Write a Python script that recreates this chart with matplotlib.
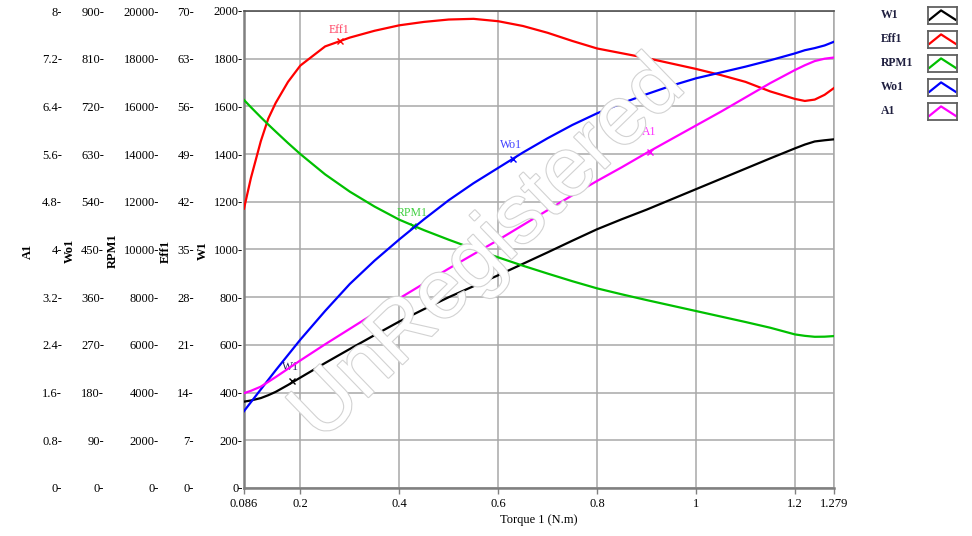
import numpy as np
import matplotlib
matplotlib.use("Agg")
import matplotlib.pyplot as plt
import matplotlib.patheffects as pe

plt.rcParams['font.family'] = ['Liberation Serif', 'DejaVu Serif']
plt.rcParams['font.size'] = 9

# torque (N.m) sample points
torque = [0.086, 0.1, 0.12, 0.135, 0.15, 0.175, 0.2, 0.25, 0.3, 0.35, 0.4,
          0.45, 0.5, 0.55, 0.6, 0.65, 0.7, 0.75, 0.8, 0.85, 0.9, 0.95,
          1.0, 1.05, 1.1, 1.15, 1.2, 1.22, 1.24, 1.26, 1.279]

w1 = [362, 367, 377, 389, 403, 432, 463, 524, 583, 641, 698,
      750, 800, 846, 892, 940, 988, 1037, 1085, 1127, 1167, 1210,
      1253, 1296, 1339, 1382, 1424, 1440, 1453, 1458, 1462]
eff1 = [41.0, 45.5, 50.9, 54.2, 56.5, 59.6, 62.0, 64.8, 66.1, 67.1, 67.9,
        68.4, 68.75, 68.85, 68.5, 67.8, 66.8, 65.6, 64.5, 63.8, 63.1, 62.3,
        61.5, 60.6, 59.6, 58.2, 57.1, 56.8, 57.0, 57.7, 58.7]
rpm1 = [16270, 15966, 15546, 15241, 14946, 14463, 14000, 13150, 12425, 11800, 11250,
        10810, 10410, 10030, 9670, 9320, 8990, 8670, 8370, 8120, 7880, 7650,
        7420, 7190, 6960, 6720, 6440, 6380, 6340, 6345, 6370]
wo1 = [145, 162, 186, 204, 222, 251, 280, 334, 385, 429, 469,
       507, 543, 575, 604, 633, 660, 685, 707, 726, 743, 759,
       773, 784, 795, 807, 820, 826, 830, 835, 842]
a1 = [1.59, 1.63, 1.70, 1.78, 1.86, 2.00, 2.14, 2.41, 2.67, 2.93, 3.18,
      3.43, 3.68, 3.92, 4.16, 4.41, 4.66, 4.91, 5.15, 5.38, 5.62, 5.85,
      6.08, 6.31, 6.55, 6.79, 7.01, 7.09, 7.16, 7.20, 7.22]

names = ['W1', 'Eff1', 'RPM1', 'Wo1', 'A1']
colors = ['#000000', '#ff0000', '#00c000', '#0000ff', '#ff00ff']
label_colors = ['#202060', '#ff4060', '#40d040', '#4040ff', '#ff30ff']
y_max = [2000, 70, 20000, 900, 8]
# where each curve carries its name tag (torque, value)
tag_torque = [0.183, 0.280, 0.428, 0.629, 0.907]
tag_value = [449, 65.6, 11000, 620, 5.64]
tag_lift = [6, 3.5, 4.5, 6, 10]

xticks = [0.086, 0.2, 0.4, 0.6, 0.8, 1.0, 1.2, 1.279]
xtick_labels = ['0.086', '0.2', '0.4', '0.6', '0.8', '1', '1.2', '1.279']

W, H = 972, 536
fig = plt.figure(figsize=(W / 100, H / 100), dpi=100)
L, R, T, B = 244, 834, 11, 488
ax = fig.add_axes([L / W, 1 - B / H, (R - L) / W, (B - T) / H])

grid_c = '#a8a8a8'
ax.set_xlim(xticks[0], xticks[-1])
ax.set_xticks(xticks)
ax.set_xticklabels(xtick_labels)
ax.tick_params(axis='x', length=4, width=1, color='#808080', pad=3)
ax.set_xlabel('Torque 1 (N.m)', labelpad=3)
ax.grid(True, color=grid_c, linewidth=1.1)
for s in ['left', 'bottom']:
    ax.spines[s].set_color('#808080')
    ax.spines[s].set_linewidth(1.8)
ax.spines['top'].set_color('#505050')
ax.spines['top'].set_linewidth(1.2)
ax.spines['right'].set_color(grid_c)
ax.spines['right'].set_linewidth(1.1)

series = [w1, eff1, rpm1, wo1, a1]
# right edge (px) of each tick-label column, axis-label x centre (px)
col_right = [243, 194, 159, 104, 62]
label_x = [203, 166, 113, 70, 28]

axes = [ax]
for i in range(1, 5):
    tw = ax.twinx()
    tw.yaxis.set_ticks_position('left')
    for s in ['right', 'top', 'bottom', 'left']:
        tw.spines[s].set_visible(False)
    tw.spines['left'].set_position(('axes', (col_right[i] - L) / (R - L)))
    axes.append(tw)

for i, a in enumerate(axes):
    top = y_max[i]
    ticks = np.linspace(0, top, 11)
    a.set_ylim(0, top)
    a.set_yticks(ticks)
    a.set_yticklabels([f'{v:g}-' for v in ticks])
    a.tick_params(axis='y', length=0, pad=0 if i else 1)
    a.plot(torque, series[i], color=colors[i], linewidth=1.6, zorder=3)
    a.plot(tag_torque[i], tag_value[i], marker='x', color=colors[i],
           markersize=4, markeredgewidth=1, zorder=4)
    a.annotate(names[i], (tag_torque[i], tag_value[i]), xytext=(-1, tag_lift[i]),
               textcoords='offset points', ha='center', va='bottom',
               color=label_colors[i], fontsize=8.5)
    fig.text(label_x[i] / W, 1 - 251 / H, names[i], rotation=90,
             ha='center', va='center', fontsize=9, fontweight='bold')

# legend column on the right
for i, name in enumerate(names):
    yc = 15 + i * 24
    fig.text(881 / W, 1 - yc / H, name, ha='left', va='center',
             fontsize=8.5, fontweight='bold', color='#202040')
    lax = fig.add_axes([928 / W, 1 - (yc + 9) / H, 29 / W, 17 / H])
    lax.plot([0.05, 0.45, 0.95], [0.25, 0.8, 0.25], color=colors[i], linewidth=1.6)
    lax.set_xlim(0, 1)
    lax.set_ylim(0, 1)
    lax.set_xticks([])
    lax.set_yticks([])
    for s in lax.spines.values():
        s.set_color('#606060')
        s.set_linewidth(1.3)

# watermark
fig.text(489 / W, 1 - 250 / H, 'UnRegistered', rotation=44, ha='center',
         va='center', rotation_mode='anchor', fontsize=60,
         family='Liberation Sans', color='white', zorder=10,
         path_effects=[pe.withStroke(linewidth=1.6, foreground='#d2d2d2')])

fig.savefig('out.png', dpi=100)
